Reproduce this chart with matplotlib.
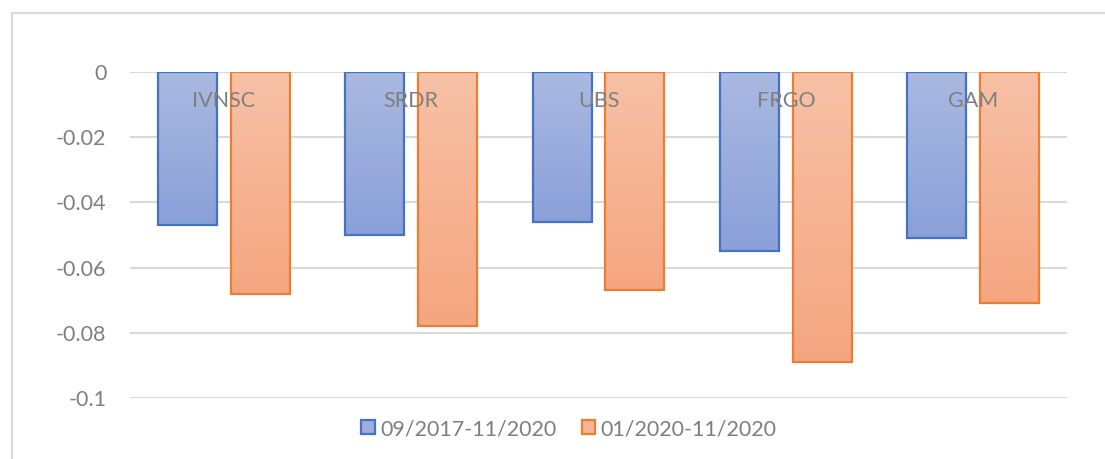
import numpy as np
import matplotlib.pyplot as plt
from matplotlib.colors import to_rgb
from matplotlib.lines import Line2D
from matplotlib.patches import Patch

# data
categories = ['IVNSC', 'SRDR', 'UBS', 'FRGO', 'GAM']
series_names = ['09/2017-11/2020', '01/2020-11/2020']
values_long = [-0.047, -0.050, -0.046, -0.055, -0.051]
values_short = [-0.068, -0.078, -0.067, -0.089, -0.071]
y_ticks = [0, -0.02, -0.04, -0.06, -0.08, -0.1]
y_tick_labels = ['0', '-0.02', '-0.04', '-0.06', '-0.08', '-0.1']

plt.rcParams['font.family'] = ['Lato', 'DejaVu Sans']
gray = '#7F7F7F'
fs = 15.5

W, H = 1105, 459
fig = plt.figure(figsize=(W / 100, H / 100), dpi=100)
ax = fig.add_axes([130 / W, (H - 398) / H, (1067 - 130) / W, (398 - 72) / H])

x = np.arange(len(categories))
width = 0.315
offset = 0.194

styles = [
    (values_long, -offset, '#4472C4', '#AAB9E1', '#8AA0D8'),
    (values_short, offset, '#ED7D31', '#F7C1A6', '#F5A680'),
]


def gradient_bar(bar, top_col, bot_col):
    bx, by = bar.get_x(), bar.get_y()
    bw, bh = bar.get_width(), bar.get_height()
    t = np.linspace(0, 1, 64)[:, None]
    c0, c1 = np.array(to_rgb(top_col)), np.array(to_rgb(bot_col))
    img = (c0 * (1 - t) + c1 * t)[:, None, :]
    y0, y1 = by, by + bh
    im = ax.imshow(img, extent=[bx, bx + bw, min(y0, y1), max(y0, y1)],
                   aspect='auto', origin='upper', zorder=2)
    im.set_clip_path(bar)


for vals, off, edge, top_col, bot_col in styles:
    bars = ax.bar(x + off, vals, width, facecolor='none', edgecolor=edge,
                  linewidth=1.6, zorder=3)
    for b in bars:
        gradient_bar(b, top_col, bot_col)

ax.set_xlim(-0.5, len(categories) - 0.5)
ax.set_ylim(-0.1, 0)
ax.set_yticks(y_ticks)
ax.set_yticklabels(y_tick_labels)
ax.set_xticks([])
ax.tick_params(axis='y', length=0, pad=17, labelsize=fs, labelcolor=gray)
ax.grid(axis='y', color='#D9D9D9', linewidth=1.5, zorder=0)
ax.set_axisbelow(True)
for s in ax.spines.values():
    s.set_visible(False)

# category labels sit just under the zero line
for i, cat in enumerate(categories):
    ax.text(i, -0.0088, cat, ha='center', va='center', fontsize=fs,
            color=gray, zorder=4)

handles = [Patch(facecolor=c, edgecolor=e, linewidth=1.6)
           for e, c in [('#4472C4', '#9DAEDD'), ('#ED7D31', '#F6B598')]]
fig.legend(handles, series_names, loc='center', bbox_to_anchor=(569 / W, 1 - 429 / H),
           ncol=2, frameon=False, fontsize=fs, labelcolor=gray,
           handlelength=0.62, handleheight=0.62, handletextpad=0.25, columnspacing=1.2)

# chart area border (top and left edges only in view)
fig.add_artist(Line2D([11.5 / W, 11.5 / W], [0, 1 - 13 / H], color='#D9D9D9',
                      linewidth=1.5, transform=fig.transFigure))
fig.add_artist(Line2D([11.5 / W, 1], [1 - 13 / H, 1 - 13 / H], color='#D9D9D9',
                      linewidth=1.5, transform=fig.transFigure))

fig.savefig('out.png', dpi=100)
